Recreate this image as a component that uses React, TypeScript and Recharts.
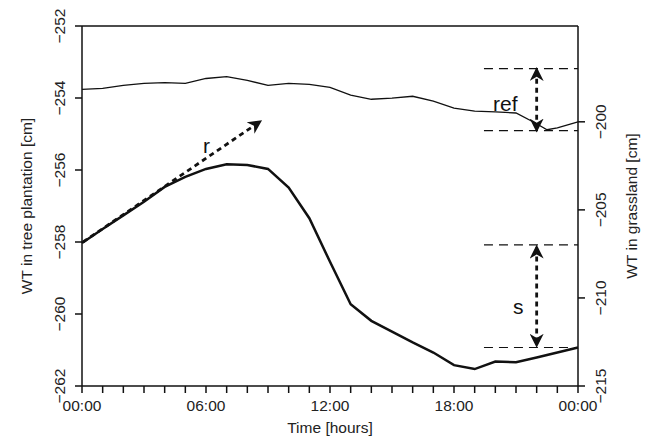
import { LineChart, Line, XAxis, YAxis, ReferenceLine } from 'recharts';

const hours = [0, 1, 2, 3, 4, 5, 6, 7, 8, 9, 10, 11, 12, 13, 14, 15, 16, 17, 18, 19, 20, 21, 22, 22.5, 23, 24];
const treeWT = [-258.03, -257.64, -257.26, -256.88, -256.47, -256.19, -255.97, -255.84, -255.86, -255.97, -256.49, -257.34, -258.55, -259.73, -260.19, -260.49, -260.79, -261.07, -261.42, -261.53, -261.32, -261.34, -261.21, -261.14, -261.07, -260.93];
const grassWT = [-198.16, -198.1, -197.93, -197.82, -197.77, -197.82, -197.54, -197.43, -197.65, -197.93, -197.82, -197.88, -198.04, -198.49, -198.72, -198.66, -198.55, -198.83, -199.22, -199.39, -199.44, -199.5, -200.11, -200.45, -200.34, -200.0];
const xTicks = [0, 1, 2, 3, 4, 5, 6, 7, 8, 9, 10, 11, 12, 13, 14, 15, 16, 17, 18, 19, 20, 21, 22, 23, 24];
const xLabels: Record<number, string> = { 0: '00:00', 6: '06:00', 12: '12:00', 18: '18:00', 24: '00:00' };
const leftTicks = [-262, -260, -258, -256, -254, -252];
const rightTicks = [-215, -210, -205, -200];

const data = hours.map((h, i) => ({ h, tree: treeWT[i], grass: grassWT[i] }));

const font = 'Liberation Sans, Arial, sans-serif';
const fs = 15.5;
const fmt = (v: number) => String(v).replace('-', '\u2212');

const XTick = (p: any) => {
  const lbl = xLabels[p.payload.value];
  if (!lbl) return null;
  return (
    <text x={p.x} y={p.y + 16} textAnchor="middle" fontSize={fs} fontFamily={font} fill="#222">
      {lbl}
    </text>
  );
};

const YTickL = (p: any) => (
  <text x={p.x - 8} y={p.y} textAnchor="middle" fontSize={fs} fontFamily={font} fill="#222"
    transform={`rotate(-90 ${p.x - 8} ${p.y})`}>
    {fmt(p.payload.value)}
  </text>
);

const YTickR = (p: any) => (
  <text x={p.x + 19} y={p.y} textAnchor="middle" fontSize={fs} fontFamily={font} fill="#222"
    transform={`rotate(-90 ${p.x + 19} ${p.y})`}>
    {fmt(p.payload.value)}
  </text>
);

const arrowShape = (id: string, both: boolean) => (p: any) => (
  <g>
    <defs>
      <marker id={id} viewBox="0 0 10 10" refX="8" refY="5" markerWidth="5" markerHeight="5" orient="auto-start-reverse">
        <path d="M0,0 L10,5 L0,10 L3,5 z" fill="#111" />
      </marker>
    </defs>
    <line x1={p.x1} y1={p.y1} x2={p.x2} y2={p.y2} stroke="#111" strokeWidth={2.8} strokeDasharray="5 4"
      markerEnd={`url(#${id})`} markerStart={both ? `url(#${id})` : undefined} />
  </g>
);

export default function App() {
  return (
    <div style={{ margin: '-8px 0 0 0' }}>
      <LineChart width={643} height={446} data={data} margin={{ top: 26, right: 13, bottom: 15, left: 14 }}>
        <XAxis dataKey="h" type="number" domain={[0, 24]} ticks={xTicks} tick={<XTick />} interval={0}
          stroke="#111" strokeWidth={1.5} tickSize={7} height={45}
          label={{ value: 'Time [hours]', position: 'insideBottom', offset: -2, fontSize: fs, fontFamily: font, fill: '#222' }} />
        <YAxis yAxisId="l" domain={[-262, -252]} ticks={leftTicks} tick={<YTickL />} interval={0}
          stroke="#111" strokeWidth={1.5} tickSize={7} width={60} allowDataOverflow
          label={{ value: 'WT in tree plantation [cm]', angle: -90, position: 'insideLeft', offset: 0, dx: 4, fontSize: fs, fontFamily: font, fill: '#222', style: { textAnchor: 'middle' } }} />
        <YAxis yAxisId="r" orientation="right" domain={[-215, -194.56]} ticks={rightTicks} tick={<YTickR />} interval={0}
          stroke="#111" strokeWidth={1.5} tickSize={7} width={60} allowDataOverflow
          label={{ value: 'WT in grassland [cm]', angle: -90, position: 'insideRight', offset: 0, dx: -7, fontSize: fs, fontFamily: font, fill: '#222', style: { textAnchor: 'middle' } }} />
        <ReferenceLine yAxisId="l" y={-252} stroke="#111" strokeWidth={1.5} />
        <ReferenceLine yAxisId="r" segment={[{ x: 19.45, y: -196.98 }, { x: 24, y: -196.98 }]} stroke="#111" strokeWidth={1.2} strokeDasharray="9 6" />
        <ReferenceLine yAxisId="r" segment={[{ x: 19.45, y: -200.5 }, { x: 24, y: -200.5 }]} stroke="#111" strokeWidth={1.2} strokeDasharray="9 6" />
        <ReferenceLine yAxisId="l" segment={[{ x: 19.45, y: -258.08 }, { x: 24, y: -258.08 }]} stroke="#111" strokeWidth={1.2} strokeDasharray="9 6" />
        <ReferenceLine yAxisId="l" segment={[{ x: 19.45, y: -260.93 }, { x: 24, y: -260.93 }]} stroke="#111" strokeWidth={1.2} strokeDasharray="9 6" />
        <ReferenceLine yAxisId="r" segment={[{ x: 22, y: -197.05 }, { x: 22, y: -200.45 }]} shape={arrowShape('aref', true)} />
        <ReferenceLine yAxisId="l" segment={[{ x: 22, y: -258.15 }, { x: 22, y: -260.86 }]} shape={arrowShape('as', true)} />
        <ReferenceLine yAxisId="l" segment={[{ x: 0.05, y: -258.0 }, { x: 8.6, y: -254.66 }]} shape={arrowShape('ar', false)} />
        <Line yAxisId="l" dataKey="tree" stroke="#111" strokeWidth={2.5} dot={false} isAnimationActive={false} />
        <Line yAxisId="r" dataKey="grass" stroke="#111" strokeWidth={1.3} dot={false} isAnimationActive={false} />
        <text x={485} y={111} fontSize={21} fontFamily={font} fill="#111">ref</text>
        <text x={505} y={314} fontSize={21} fontFamily={font} fill="#111">s</text>
        <text x={195} y={153} fontSize={21} fontFamily={font} fill="#111">r</text>
      </LineChart>
    </div>
  );
}
